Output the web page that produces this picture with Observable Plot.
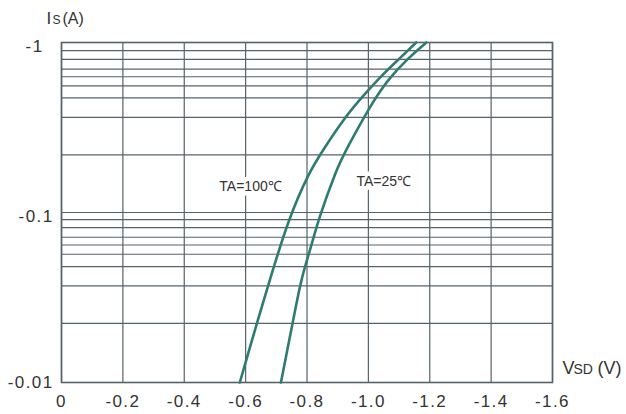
<!DOCTYPE html>
<html>
<head>
<meta charset="utf-8">
<script src="https://cdn.jsdelivr.net/npm/d3@7"></script>
<script src="https://cdn.jsdelivr.net/npm/@observablehq/plot@0.6"></script>
<style>
  html, body { margin: 0; padding: 0; background: #fff; }
  #chart svg g[aria-label="x-axis tick label"] text,
  #chart svg g[aria-label="y-axis tick label"] text { letter-spacing: 1.4px; }
</style>
</head>
<body>
<div id="chart"></div>
<script>
// Forward-voltage curves (VSD in V, IS in A), both negative
const vsd100 = [-0.581, -0.637, -0.673, -0.738, -0.807, -0.852, -0.924, -0.983, -1.035, -1.100, -1.156];
const is100  = [-0.0100, -0.0224, -0.0370, -0.0904, -0.173, -0.233, -0.365, -0.485, -0.618, -0.800, -1.000];
const vsd25  = [-0.715, -0.753, -0.777, -0.793, -0.815, -0.837, -0.895, -0.927, -1.009, -1.068, -1.127, -1.189];
const is25   = [-0.0100, -0.0223, -0.0371, -0.0480, -0.0644, -0.0907, -0.178, -0.233, -0.435, -0.618, -0.800, -1.000];

// axis ticks and grid lines (grid positions as drawn in the picture)
const xTicks = [0, -0.2, -0.4, -0.6, -0.8, -1.0, -1.2, -1.4, -1.6];
const yGridUpper = [-1, -0.895, -0.796, -0.698, -0.629, -0.555, -0.472, -0.363, -0.218];
const yGridLower = [-0.1, -0.0907, -0.0814, -0.0715, -0.0644, -0.0568, -0.048, -0.037, -0.0223, -0.01];

const labels = [
  {text: "TA=100℃", v: -0.616, i: -0.143},
  {text: "TA=25℃", v: -1.05, i: -0.153}
];

const rows100 = vsd100.map((v, k) => ({v, i: is100[k]}));
const rows25 = vsd25.map((v, k) => ({v, i: is25[k]}));

const gridColor = "#56626a";
const curveColor = "#2e7b72";
const textColor = "#333";
const fmtX = d => d === 0 ? "0" : d.toFixed(1);

const chart = Plot.plot({
  width: 626,
  height: 414,
  marginLeft: 61,
  marginRight: 74,
  marginTop: 42,
  marginBottom: 32,
  style: {fontFamily: "'Liberation Sans', Arial, sans-serif", fontSize: "17px", color: textColor, background: "#fff"},
  x: {domain: [0, -1.6], label: null},
  y: {type: "log", domain: [-0.01, -1], label: null},
  marks: [
    Plot.gridX(xTicks, {stroke: gridColor, strokeOpacity: 1, strokeWidth: 1.2}),
    Plot.gridY(yGridUpper.concat(yGridLower), {stroke: gridColor, strokeOpacity: 1, strokeWidth: 1.2}),
    Plot.frame({stroke: gridColor, strokeWidth: 1.6}),
    Plot.axisX({ticks: xTicks, tickFormat: fmtX, tickSize: 0, tickPadding: 12, fontSize: 17, fill: textColor, label: null}),
    Plot.axisY({ticks: [-1], tickFormat: d => String(d), tickSize: 0, tickPadding: 18, dy: 4, fontSize: 17, fill: textColor, label: null}),
    Plot.axisY({ticks: [-0.1], tickFormat: d => String(d), tickSize: 0, tickPadding: 8, dy: 4, fontSize: 17, fill: textColor, label: null}),
    Plot.axisY({ticks: [-0.01], tickFormat: d => String(d), tickSize: 0, tickPadding: 8, dy: 0, fontSize: 17, fill: textColor, label: null}),
    Plot.line(rows100, {x: "v", y: "i", stroke: curveColor, strokeWidth: 2.6, curve: "basis"}),
    Plot.line(rows25, {x: "v", y: "i", stroke: curveColor, strokeWidth: 2.6, curve: "basis"}),
    Plot.text(labels, {x: "v", y: "i", text: "text", fontSize: 14, fill: textColor, stroke: "white", strokeWidth: 9, paintOrder: "stroke"}),
    // y-axis title: I S (A)
    Plot.text(["I"], {frameAnchor: "top-left", dx: -15, dy: -19, fontSize: 17, fill: textColor, textAnchor: "start", lineAnchor: "bottom"}),
    Plot.text(["S"], {frameAnchor: "top-left", dx: -9, dy: -19, fontSize: 12, fill: textColor, textAnchor: "start", lineAnchor: "bottom"}),
    Plot.text(["(A)"], {frameAnchor: "top-left", dx: 1, dy: -19, fontSize: 16, fill: textColor, textAnchor: "start", lineAnchor: "bottom"}),
    // x-axis title: V SD (V)
    Plot.text(["V"], {frameAnchor: "bottom-right", dx: 10, dy: -9, fontSize: 18, fill: textColor, textAnchor: "start", lineAnchor: "bottom"}),
    Plot.text(["SD"], {frameAnchor: "bottom-right", dx: 21, dy: -9, fontSize: 14, fill: textColor, textAnchor: "start", lineAnchor: "bottom"}),
    Plot.text(["(V)"], {frameAnchor: "bottom-right", dx: 45, dy: -9, fontSize: 18, fill: textColor, textAnchor: "start", lineAnchor: "bottom"})
  ]
});
document.getElementById("chart").appendChild(chart);
</script>
</body>
</html>
